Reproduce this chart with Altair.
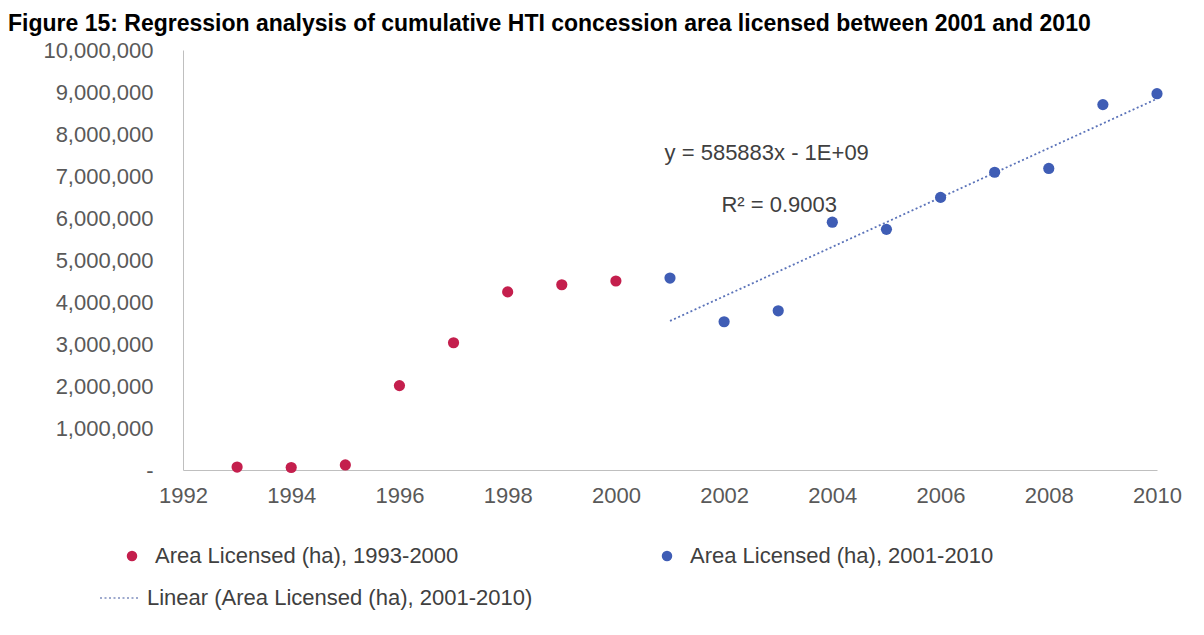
import altair as alt
import pandas as pd

# ---- data ----
years_early = [1993, 1994, 1995, 1996, 1997, 1998, 1999, 2000]
area_early = [70000, 60000, 120000, 2010000, 3030000, 4240000, 4410000, 4500000]

years_late = [2001, 2002, 2003, 2004, 2005, 2006, 2007, 2008, 2009, 2010]
area_late = [4570000, 3530000, 3790000, 5900000, 5730000, 6490000, 7090000, 7180000, 8700000, 8960000]

series_early = "Area Licensed (ha), 1993-2000"
series_late = "Area Licensed (ha), 2001-2010"
trend_label = "Linear (Area Licensed (ha), 2001-2010)"

x_ticks = [1992, 1994, 1996, 1998, 2000, 2002, 2004, 2006, 2008, 2010]
y_ticks = [0, 1000000, 2000000, 3000000, 4000000, 5000000, 6000000, 7000000, 8000000, 9000000, 10000000]

eq_text = ["y = 585883x - 1E+09", "R\u00b2 = 0.9003"]
eq_year = [2000.9, 2001.95]
eq_area = [7550000, 6310000]

title_text = ("Figure 15: Regression analysis of cumulative HTI concession area "
              "licensed between 2001 and 2010")

FONT = "Liberation Sans"
FS = 22

df = pd.DataFrame({
    "year": years_early + years_late,
    "area": area_early + area_late,
    "series": [series_early] * len(years_early) + [series_late] * len(years_late),
})
late = pd.DataFrame({"year": years_late, "area": area_late})
ann = pd.DataFrame({"year": eq_year, "area": eq_area, "label": eq_text})

x_enc = alt.X(
    "year:Q",
    scale=alt.Scale(domain=[1992, 2010], nice=False, zero=False),
    axis=alt.Axis(values=x_ticks, format="d", title=None, labelPadding=15, labelFlush=False),
)
y_enc = alt.Y(
    "area:Q",
    scale=alt.Scale(domain=[0, 10000000], nice=False),
    axis=alt.Axis(
        values=y_ticks,
        title=None,
        labelPadding=30,
        labelFlush=False,
        labelExpr="datum.value == 0 ? '-' : format(datum.value, ',')",
    ),
)

trend = (
    alt.Chart(late)
    .transform_regression("year", "area")
    .transform_calculate(fit="'" + trend_label + "'")
    .mark_line(color="#5b73b9", strokeWidth=1.8)
    .encode(
        x=x_enc,
        y=y_enc,
        strokeDash=alt.StrokeDash(
            "fit:N",
            scale=alt.Scale(domain=[trend_label], range=[[2, 2.5]]),
            legend=alt.Legend(
                title=None,
                orient="none",
                legendX=-84,
                legendY=527,
                symbolType="stroke",
                symbolSize=1600,
                symbolStrokeColor="#7f8fbf",
                symbolStrokeWidth=1.5,
                labelFont=FONT,
                labelFontSize=FS,
                labelColor="#404040",
                labelOffset=6,
                labelLimit=800,
                padding=0,
            ),
        ),
    )
)

points = (
    alt.Chart(df)
    .mark_point(filled=True, size=125, opacity=1, shape="circle")
    .encode(
        x=x_enc,
        y=y_enc,
        color=alt.Color(
            "series:N",
            scale=alt.Scale(domain=[series_early, series_late], range=["#C41F4D", "#3F5DB5"]),
            legend=alt.Legend(
                title=None,
                orient="none",
                legendX=-62,
                legendY=495,
                direction="horizontal",
                columns=2,
                columnPadding=197,
                symbolType="circle",
                symbolSize=110,
                symbolStrokeWidth=0,
                labelFont=FONT,
                labelFontSize=FS,
                labelColor="#404040",
                labelOffset=12,
                labelLimit=800,
                padding=0,
            ),
        ),
    )
)

labels = (
    alt.Chart(ann)
    .mark_text(align="left", baseline="middle", font=FONT, fontSize=FS, color="#404040")
    .encode(x="year:Q", y="area:Q", text="label:N")
)

chart = (
    alt.layer(trend, points, labels)
    .resolve_legend(color="independent", strokeDash="independent")
    .properties(
        width=974,
        height=420,
        autosize=alt.AutoSizeParams(type="none"),
        padding={"left": 175, "top": 42, "right": 39, "bottom": 157},
        title=alt.TitleParams(
            title_text,
            anchor="start",
            frame="group",
            font=FONT,
            fontSize=23,
            fontWeight="bold",
            color="#000000",
            dx=-175,
            offset=3,
        ),
    )
    .configure_view(stroke=None)
    .configure_axis(
        domainColor="#bfbfbf",
        domainWidth=1,
        ticks=False,
        grid=False,
        labelFont=FONT,
        labelFontSize=FS,
        labelColor="#595959",
    )
)

chart.save("out.html", embed_options={"renderer": "svg", "actions": False})
